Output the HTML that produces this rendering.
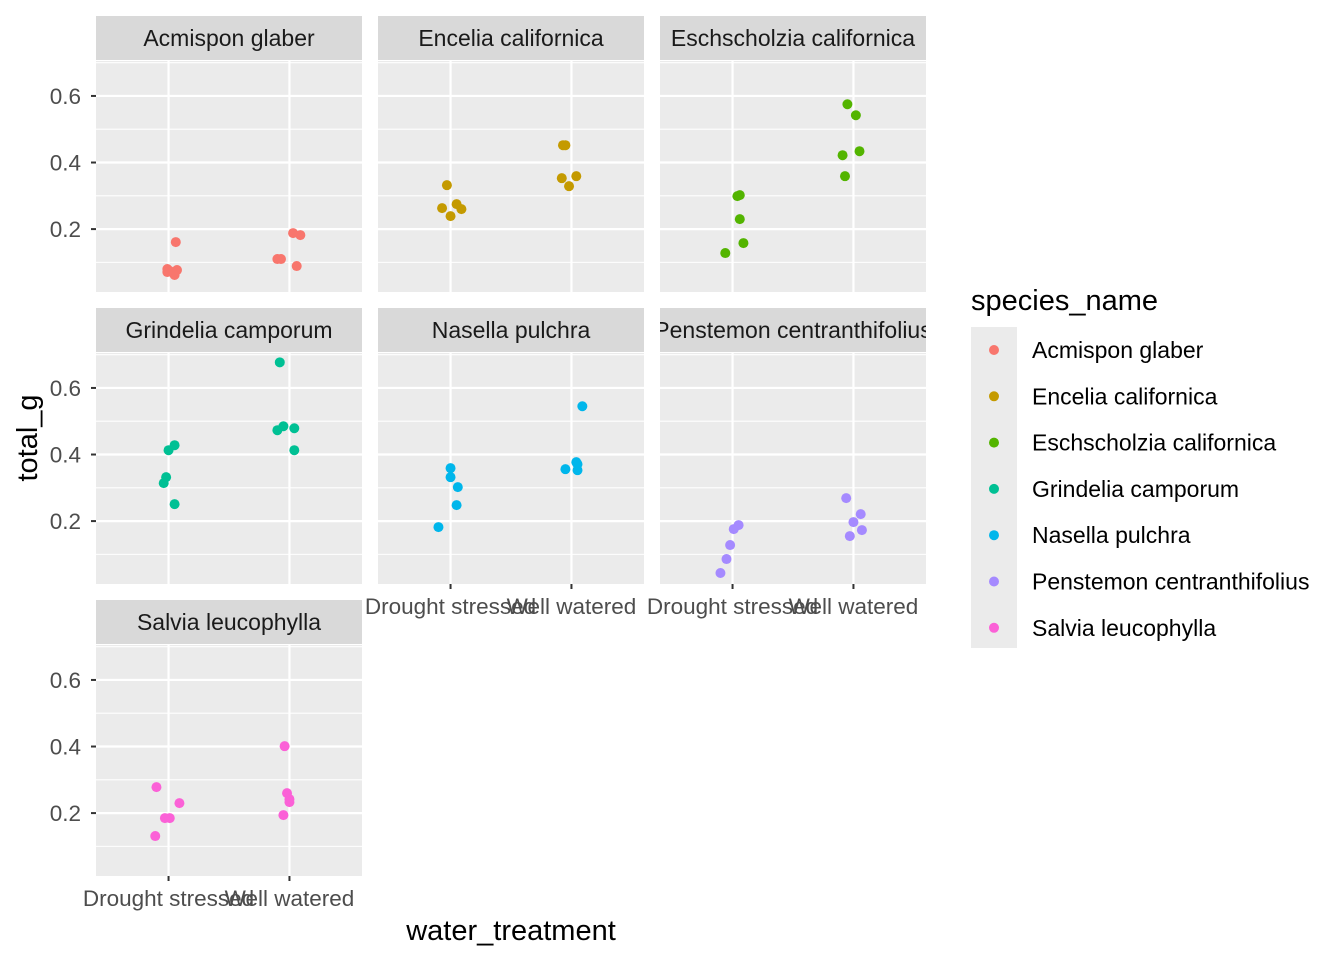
<!DOCTYPE html>
<html><head><meta charset="utf-8"><style>
body{margin:0;background:#fff;}
svg text{font-family:"Liberation Sans",Arial,sans-serif;}
</style></head><body>
<svg id="chart" width="1344" height="960" xmlns="http://www.w3.org/2000/svg"></svg>
<script>
const species=["Acmispon glaber","Encelia californica","Eschscholzia californica","Grindelia camporum","Nasella pulchra","Penstemon centranthifolius","Salvia leucophylla"];
const colors=["#F8766D","#C49A00","#53B400","#00C094","#00B6EB","#A58AFF","#FB61D7"];
const treatments=["Drought stressed","Well watered"];
const yTicks=[0.2,0.4,0.6];
const yMinor=[0.1,0.3,0.5,0.7];
const droughtVals=[[0.161,0.080,0.074,0.077,0.062,0.071],[0.332,0.263,0.239,0.275,0.260],[0.299,0.302,0.230,0.158,0.128],[0.332,0.314,0.413,0.428,0.251],[0.359,0.332,0.302,0.248,0.182],[0.188,0.176,0.128,0.086,0.044],[0.278,0.230,0.185,0.185,0.131]];
const droughtJit=[[0.06,-0.01,0.01,0.07,0.05,-0.01],[-0.03,-0.07,0,0.05,0.09],[0.04,0.06,0.06,0.09,-0.06],[-0.02,-0.04,0,0.05,0.05],[0,0,0.06,0.05,-0.1],[0.05,0.01,-0.02,-0.05,-0.1],[-0.1,0.09,-0.03,0.01,-0.11]];
const wellVals=[[0.110,0.110,0.188,0.182,0.089],[0.452,0.452,0.353,0.329,0.359],[0.575,0.542,0.422,0.434,0.359],[0.677,0.473,0.485,0.479,0.413],[0.545,0.377,0.371,0.353,0.356],[0.269,0.221,0.197,0.173,0.155],[0.401,0.260,0.242,0.233,0.194]];
const wellJit=[[-0.1,-0.07,0.03,0.09,0.06],[-0.07,-0.05,-0.08,-0.02,0.04],[-0.05,0.02,-0.09,0.05,-0.07],[-0.08,-0.1,-0.05,0.04,0.04],[0.09,0.04,0.05,0.05,-0.05],[-0.06,0.06,0,0.07,-0.03],[-0.04,-0.02,0,0,-0.05]];

const svg=document.getElementById('chart');
const NS="http://www.w3.org/2000/svg";
function mk(tag,attrs,parent,text){const e=document.createElementNS(NS,tag);for(const k in attrs)e.setAttribute(k,attrs[k]);if(text!==undefined)e.textContent=text;(parent||svg).appendChild(e);return e;}
const colX=[96,378,660],PW=266,stripH=44,PH=231,rowY=[16,308,600];
const yTop=0.705,yBot=0.011;
function ys(v,py){return py+ (yTop-v)/(yTop-yBot)*PH;}
function xs(u,px){return px+(u-0.4)/2.2*PW;}
const defs=mk('defs',{},svg);
species.forEach((sp,i)=>{
  const c=i%3,r=Math.floor(i/3);
  const px=colX[c],sy=rowY[r],py=sy+stripH+1;
  const cp=mk('clipPath',{id:'clip'+i},defs);
  mk('rect',{x:px,y:sy,width:PW,height:stripH},cp);
  const g=mk('g',{},svg);
  
  
  const st=mk('rect',{x:px,y:sy,width:PW,height:stripH,fill:'#D9D9D9'},g);
  
  
  const stt=mk('text',{x:px+PW/2,y:sy+30,'text-anchor':'middle','font-size':'23','fill':'#1A1A1A','clip-path':'url(#clip'+i+')'},g,sp);
  
  
  const bg=mk('rect',{x:px,y:py,width:PW,height:PH,fill:'#EBEBEB'},g);
  
  
  yMinor.forEach(v=>{const y=ys(v,py);if(y>=py&&y<=py+PH){const l=mk('line',{x1:px,x2:px+PW,y1:y,y2:y,stroke:'#fff','stroke-width':1.1},g);}});
  yTicks.forEach(v=>{const y=ys(v,py);const l=mk('line',{x1:px,x2:px+PW,y1:y,y2:y,stroke:'#fff','stroke-width':2.2},g);});
  [1,2].forEach(u=>{const x=xs(u,px);const l=mk('line',{x1:x,x2:x,y1:py,y2:py+PH,stroke:'#fff','stroke-width':2.2},g);});
  if(c===0){yTicks.forEach(v=>{const y=ys(v,py);
    const t=mk('line',{x1:px-5,x2:px,y1:y,y2:y,stroke:'#333','stroke-width':2},g);
    const tl=mk('text',{x:px-15,y:y+8,'text-anchor':'end','font-size':'22.5',fill:'#4D4D4D'},g,v.toFixed(1));});}
  const bottom=(r===2)||(r===1&&c>0);
  if(bottom){treatments.forEach((tr,k)=>{const x=xs(k+1,px);
    const t=mk('line',{x1:x,x2:x,y1:py+PH,y2:py+PH+5,stroke:'#333','stroke-width':2},g);
    const tl=mk('text',{x:x,y:py+PH+30,'text-anchor':'middle','font-size':'22.5',fill:'#4D4D4D'},g,tr);});}
  droughtVals[i].forEach((v,k)=>{const p=mk('circle',{cx:xs(1+droughtJit[i][k],px),cy:ys(v,py),r:5,fill:colors[i]},g);});
  wellVals[i].forEach((v,k)=>{const p=mk('circle',{cx:xs(2+wellJit[i][k],px),cy:ys(v,py),r:5,fill:colors[i]},g);});
});
const yt=mk('text',{x:0,y:0,transform:'translate(37,438) rotate(-90)','text-anchor':'middle','font-size':'29'},svg,'total_g');

const xt=mk('text',{x:511,y:940,'text-anchor':'middle','font-size':'29'},svg,'water_treatment');

const lg=mk('g',{},svg);
const lt=mk('text',{x:971,y:310,'font-size':'29'},lg,'species_name');
const lb=mk('rect',{x:971,y:327,width:46,height:46*7-1,fill:'#EBEBEB'},lg);
species.forEach((sp,i)=>{const y=327+23+i*46.3;
  const e=mk('g',{},lg);
  mk('circle',{cx:994,cy:y,r:5,fill:colors[i]},e);
  mk('text',{x:1032,y:y+8,'font-size':'23',fill:'#000'},e,sp);});
</script>
</body></html>
